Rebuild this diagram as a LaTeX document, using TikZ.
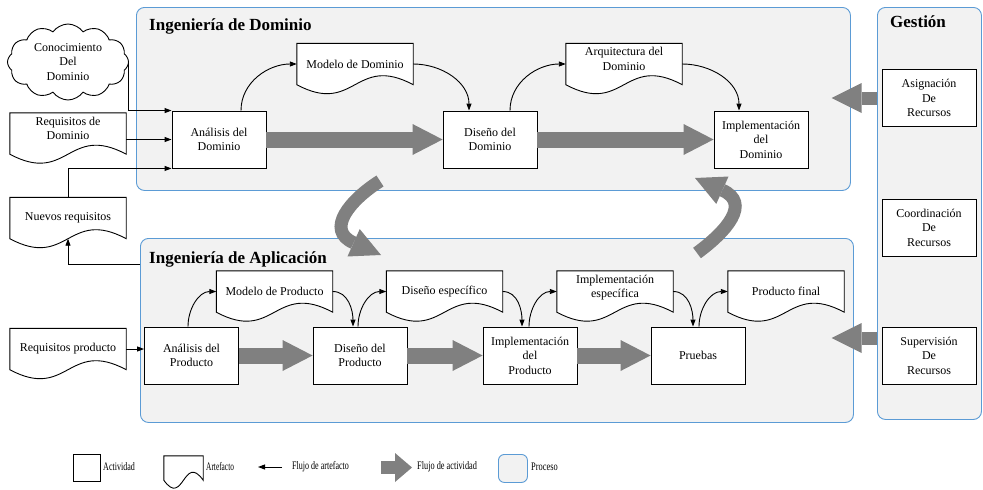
\documentclass[tikz,border=0pt]{standalone}
\usepackage{fontspec}
\usepackage{graphicx}
\setmainfont{Liberation Serif}
\usetikzlibrary{arrows.meta,calc,shapes.symbols}

\definecolor{procfill}{HTML}{F2F2F2}
\definecolor{procline}{HTML}{5B9BD5}
\definecolor{flowgray}{HTML}{808080}

\pgfdeclarelayer{bg}
\pgfdeclarelayer{mid}
\pgfsetlayers{bg,mid,main}

% Document (artefact) outline around a named node: flat top, straight sides,
% S-shaped wavy bottom; optional argument = wave amplitude
\newcommand\docoutline[2][9]{%
  \begin{pgfonlayer}{mid}
    \draw[docline] (#2.north west) -- (#2.north east) -- (#2.south east)
      .. controls ($(#2.south)+(0,-3.46*#1)$) and ($(#2.south)+(0,3.46*#1)$) .. (#2.south west) -- cycle;
  \end{pgfonlayer}}

\tikzset{
  txt/.style={font=\fontsize{12}{14.5}\selectfont},
  act/.style={txt, draw, line width=0.9pt, fill=white, minimum width=94, minimum height=57,
    align=center, inner sep=2pt},
  docnode/.style={txt, minimum width=116, minimum height=41, align=center, inner sep=1pt},
  doctwo/.style={text depth=10pt},
  docline/.style={draw, line width=0.9pt, fill=white},
  process/.style={draw=procline, line width=0.9pt, fill=procfill, rounded corners=8pt,
    anchor=north west},
  cloudbox/.style={txt, cloud, draw, fill=white, line width=0.9pt, cloud puffs=12,
    cloud puff arc=110, aspect=1.6, minimum width=121, minimum height=76, align=center,
    inner sep=0pt},
  title/.style={font=\fontsize{17}{20}\selectfont\bfseries, anchor=base west, inner sep=0pt},
  flow/.style={line width=0.9pt, -{Triangle[length=7pt,width=5pt]}},
  bigflow/.style={draw=flowgray, line width=16pt,
    -{Triangle[length=30pt,width=31pt,line width=0pt]}},
  sideflow/.style={draw=flowgray, line width=13pt,
    -{Triangle[length=30pt,width=30pt,line width=0pt]}},
  curveflow/.style={draw=flowgray, line width=13pt,
    -{Triangle[length=30pt,width=30pt,line width=0pt]}},
  legflow/.style={draw=flowgray, line width=13pt,
    -{Triangle[length=17pt,width=29pt,line width=0pt]}},
  lbl/.style={font=\fontsize{11.5}{14}\selectfont, anchor=west, inner sep=0pt},
}

\begin{document}
\begin{tikzpicture}[x=1pt,y=-1pt]
\useasboundingbox (0,0) rectangle (983,490);

% ---------- processes ----------
\begin{pgfonlayer}{bg}
  \node[process, minimum width=714, minimum height=183] (dom) at (136,7) {};
  \node[process, minimum width=713, minimum height=184] (app) at (140,238) {};
  \node[process, minimum width=104, minimum height=412] (ges) at (877,7) {};
\end{pgfonlayer}
\node[title] (tdom) at (149,30) {Ingeniería de Dominio};
\node[title] (tapp) at (149,263) {Ingeniería de Aplicación};
\node[title] (tges) at (890,27) {Gestión};

% ---------- inputs on the left ----------
\node[cloudbox] (cloud) at (68,62) {Conocimiento\\Del\\Dominio};
\node[docnode, doctwo] (reqd) at (68,133.5) {Requisitos de\\Dominio};
\node[docnode] (nreq) at (68,218) {Nuevos requisitos};
\node[docnode] (rprod) at (68,349) {Requisitos producto};

% ---------- domain engineering ----------
\node[act] (anad) at (219,139.5) {Análisis del\\Dominio};
\node[act] (disd) at (490,139.5) {Diseño del\\Dominio};
\node[act] (impd) at (761,139.5) {Implementación\\del\\Dominio};
\node[docnode] (mdom) at (355,64) {Modelo de Dominio};
\node[docnode, doctwo] (adom) at (624,64) {Arquitectura del\\Dominio};

% ---------- application engineering ----------
\node[act] (anap) at (191.5,355.5) {Análisis del\\Producto};
\node[act] (disp) at (360,355.5) {Diseño del\\Producto};
\node[act] (impp) at (530,355.5) {Implementación\\del\\Producto};
\node[act] (prue) at (698,355.5) {Pruebas};
\node[docnode] (mprod) at (274.5,291.5) {Modelo de Producto};
\node[docnode] (desp) at (444.5,291.5) {Diseño específico};
\node[docnode, doctwo] (iesp) at (615,291.5) {Implementación\\específica};
\node[docnode] (pfin) at (786,291.5) {Producto final};

% ---------- management ----------
\node[act] (asig) at (929,98) {Asignación\\De\\Recursos};
\node[act] (coor) at (929,227.5) {Coordinación\\De\\Recursos};
\node[act] (supe) at (929,355.5) {Supervisión\\De\\Recursos};

% ---------- artefact outlines ----------
\docoutline{reqd}
\docoutline{nreq}
\docoutline{rprod}
\docoutline{mdom}
\docoutline{adom}
\docoutline{mprod}
\docoutline{desp}
\docoutline{iesp}
\docoutline{pfin}

% ---------- activity flow ----------
\draw[bigflow] (anad) -- (disd);
\draw[bigflow] (disd) -- (impd);
\draw[bigflow] (anap) -- (disp);
\draw[bigflow] (disp) -- (impp);
\draw[bigflow] (impp) -- (prue);

\coordinate (asigtip) at ($(asig.west)+(-50,0)$);
\draw[sideflow] (asig.west -| ges.west) -- (asigtip);
\coordinate (supetip) at ($(supe.west)+(-50,-17.5)$);
\draw[sideflow] (supetip -| ges.west) -- (supetip);

\coordinate (dnout) at (380,181);
\coordinate (dnin) at (381,255);
\draw[curveflow] (dnout) .. controls (350,200) and (325,230) .. (dnin);
\coordinate (upout) at (697,253);
\coordinate (upin) at (695,178);
\draw[curveflow] (upout) .. controls (727,231) and (751,203) .. (upin);

% ---------- artefact flow ----------
\draw[flow] (cloud.east) |- (anad.north west);
\draw[flow] (reqd.east |- anad.west) -- (anad.west);
\draw[flow] (nreq.north) |- (anad.south west);
\draw[flow] ($(app.north west)+(0,26)$) -| (nreq.south);

\draw[flow] ($(anad.north)+(22,0)$) to[out=90,in=180] (mdom.west);
\draw[flow] (mdom.east) to[out=0,in=90] ($(disd.north)+(-21,0)$);
\draw[flow] ($(disd.north)+(20,0)$) to[out=90,in=180] (adom.west);
\draw[flow] (adom.east) to[out=0,in=90] ($(impd.north)+(-22,0)$);

\draw[flow] (rprod.east) -- (rprod.east -| anap.west);
\draw[flow] ($(anap.north)+(-3.5,0)$) to[out=90,in=180] (mprod.west);
\draw[flow] (mprod.east) to[out=0,in=90] ($(disp.north)+(-7,0)$);
\draw[flow] ($(disp.north)+(-2,0)$) to[out=90,in=180] (desp.west);
\draw[flow] (desp.east) to[out=0,in=90] ($(impp.north)+(-8,0)$);
\draw[flow] ($(impp.north)+(-1,0)$) to[out=90,in=180] (iesp.west);
\draw[flow] (iesp.east) to[out=0,in=90] ($(prue.north)+(-5,0)$);
\draw[flow] ($(prue.north)+(1,0)$) to[out=90,in=180] (pfin.west);

% ---------- legend ----------
\node[act, minimum width=27, minimum height=27] (lact) at (86.5,467.5) {};
\node[lbl] (tact) at (103,467) {\scalebox{0.7}[1]{Actividad}};
\node[docnode, minimum width=39, minimum height=24] (lart) at (183.5,468) {};
\docoutline[8]{lart}
\node[lbl] (tart) at (206,467) {\scalebox{0.64}[1]{Artefacto}};
\coordinate (lfs) at (282,467);
\coordinate (lfe) at (258,467);
\draw[flow] (lfs) -- (lfe);
\node[lbl] (tflow) at (292,467) {\scalebox{0.7}[1]{Flujo de artefacto}};
\coordinate (lgs) at (381,467.5);
\coordinate (lge) at (412,467.5);
\draw[legflow] (lgs) -- (lge);
\node[lbl] (tbig) at (417,467) {\scalebox{0.72}[1]{Flujo de actividad}};
\node[process, minimum width=29, minimum height=28, rounded corners=6pt] (lproc) at (498,454) {};
\node[lbl] (tproc) at (531,467) {\scalebox{0.73}[1]{Proceso}};
\end{tikzpicture}
\end{document}
